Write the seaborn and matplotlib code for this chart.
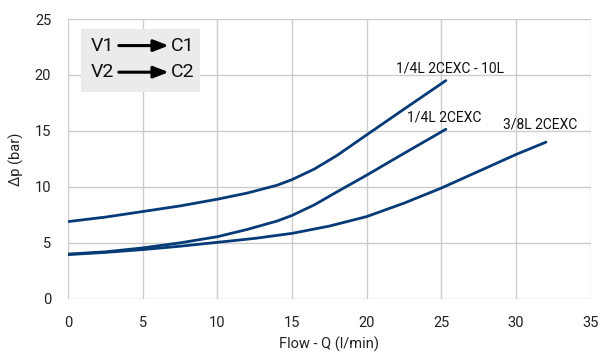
import numpy as np
import pandas as pd
import matplotlib.pyplot as plt
import seaborn as sns
from matplotlib.patches import Rectangle

# values
q_10l = [0, 2.5, 5, 7.5, 10, 12, 14, 15, 16.5, 18, 20, 22.5, 25.3]
dp_10l = [6.9, 7.3, 7.8, 8.3, 8.9, 9.45, 10.15, 10.65, 11.6, 12.8, 14.65, 16.95, 19.5]

q_14 = [0, 2.5, 5, 7.5, 10, 12, 14, 15, 16.5, 18, 20, 22.5, 25.3]
dp_14 = [4.0, 4.2, 4.55, 5.0, 5.55, 6.2, 6.95, 7.45, 8.4, 9.55, 11.05, 13.0, 15.15]

q_38 = [0, 2.5, 5, 7.5, 10, 12.5, 15, 17.5, 20, 22.5, 25, 27.5, 30, 32]
dp_38 = [3.95, 4.15, 4.4, 4.7, 5.05, 5.4, 5.85, 6.5, 7.35, 8.55, 9.9, 11.4, 12.9, 14.0]

series_names = ['1/4L 2CEXC - 10L', '1/4L 2CEXC', '3/8L 2CEXC']
label_pos = [(25.6, 20.6), (25.2, 16.2), (31.6, 15.6)]

x_ticks = [0, 5, 10, 15, 20, 25, 30, 35]
y_ticks = [0, 5, 10, 15, 20, 25]

df = pd.concat([
    pd.DataFrame({'q': q_10l, 'dp': dp_10l, 'series': series_names[0]}),
    pd.DataFrame({'q': q_14, 'dp': dp_14, 'series': series_names[1]}),
    pd.DataFrame({'q': q_38, 'dp': dp_38, 'series': series_names[2]}),
])

sns.set_style('white')
plt.rcParams['font.family'] = ['Roboto', 'DejaVu Sans']

fig = plt.figure(figsize=(6.01, 3.52), dpi=100)
ax = fig.add_axes([0.113, 0.151, 0.870, 0.795])

line_col = '#073b78'
grid_col = '#cccccc'
for name in series_names:
    sns.lineplot(data=df[df['series'] == name], x='q', y='dp', color=line_col,
                 linewidth=2.0, ax=ax, legend=False, sort=False)

for name, (tx, ty) in zip(series_names, label_pos):
    ax.text(tx, ty, name, ha='center', va='center', fontsize=10, color='#111111')

ax.set_xlim(0, 35)
ax.set_ylim(0, 25)
ax.set_xticks(x_ticks)
ax.set_yticks(y_ticks)
ax.grid(True, color=grid_col, linewidth=1.0)
ax.set_axisbelow(True)
for s in ax.spines.values():
    s.set_visible(False)
ax.tick_params(axis='both', length=6, color=grid_col, width=1.0, labelsize=10.5,
               labelcolor='#222222', pad=6)
ax.set_xlabel('Flow - Q (l/min)', fontsize=10.5, color='#222222', labelpad=5)
ax.set_ylabel('Δp (bar)', fontsize=10.5, color='#222222', labelpad=8)

# flow path box
ax.add_patch(Rectangle((0.025, 0.74), 0.228, 0.225, transform=ax.transAxes,
                       facecolor='#ebebeb', edgecolor='none', zorder=3))
for yy, a, b in [(0.905, 'V1', 'C1'), (0.81, 'V2', 'C2')]:
    ax.text(0.043, yy, a, transform=ax.transAxes, fontsize=14, va='center',
            ha='left', color='#111111', zorder=4)
    ax.text(0.197, yy, b, transform=ax.transAxes, fontsize=14, va='center',
            ha='left', color='#111111', zorder=4)
    ax.annotate('', xy=(0.198, yy), xytext=(0.092, yy), xycoords='axes fraction',
                arrowprops=dict(arrowstyle='-|>,head_length=0.9,head_width=0.35',
                                color='black', lw=2.2), zorder=4)

fig.savefig('out.png', dpi=100)
